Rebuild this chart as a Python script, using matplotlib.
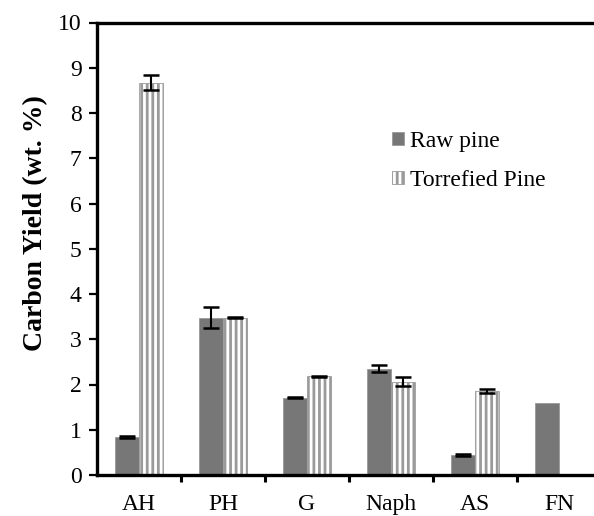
import matplotlib
matplotlib.use('Agg')
import matplotlib.pyplot as plt
import numpy as np

# Categories and values (wt. %)
categories = ['AH', 'PH', 'G', 'Naph', 'AS', 'FN']
raw_pine = [0.84, 3.48, 1.71, 2.35, 0.44, 1.60]
raw_err = [0.02, 0.24, 0.01, 0.07, 0.02, 0.0]
torr_pine = [8.67, 3.48, 2.18, 2.06, 1.86, 0.0]
torr_err = [0.17, 0.01, 0.01, 0.10, 0.05, 0.0]

plt.rcParams['font.family'] = ['Liberation Serif', 'DejaVu Serif']
plt.rcParams['hatch.linewidth'] = 2.0

fig = plt.figure(figsize=(5.94, 5.16), dpi=100)
ax = fig.add_axes([97 / 594, 41 / 516, 504 / 594, 452.5 / 516])

x = np.arange(len(categories))
w = 0.28
ekw = dict(fmt='none', ecolor='black', elinewidth=1.5, capsize=6, capthick=1.8)

ax.bar(x - 0.145, raw_pine, w, color='#777777', edgecolor='#999999', linewidth=0.6,
       label='Raw pine')
ax.bar(x + 0.145, torr_pine, w, color='white', edgecolor='#9a9a9a', linewidth=0.6,
       hatch='|||', label='Torrefied Pine')

# error bars only where an error was reported
for off, vals, errs in [(-0.145, raw_pine, raw_err), (0.145, torr_pine, torr_err)]:
    m = np.array(errs) > 0
    ax.errorbar((x + off)[m], np.array(vals)[m], yerr=np.array(errs)[m], **ekw)

ax.set_xlim(-0.5, 5.5)
ax.set_ylim(0, 10)
ax.set_yticks(range(0, 11))
ax.set_xticks(x)
ax.set_xticklabels(categories)
ax.set_xticks(x[:-1] + 0.5, minor=True)

ax.tick_params(axis='x', which='major', length=0, pad=14, labelsize=17)
ax.tick_params(axis='x', which='minor', length=5, width=2.2, direction='out')
ax.tick_params(axis='y', length=6, width=1.6, direction='out', labelsize=17, pad=5)

for s in ['left', 'bottom', 'top']:
    ax.spines[s].set_linewidth(2.4)
ax.spines['right'].set_visible(False)

ax.set_ylabel('Carbon Yield (wt. %)', fontsize=20, fontweight='bold')
ax.yaxis.set_label_coords(-0.097, 0.557)

ax.legend(loc='upper left', bbox_to_anchor=(0.585, 0.760), frameon=False, fontsize=17,
          borderpad=0, borderaxespad=0, handlelength=0.5, handleheight=0.5,
          handletextpad=0.25, labelspacing=0.75)

fig.savefig('out.png', dpi=100)
